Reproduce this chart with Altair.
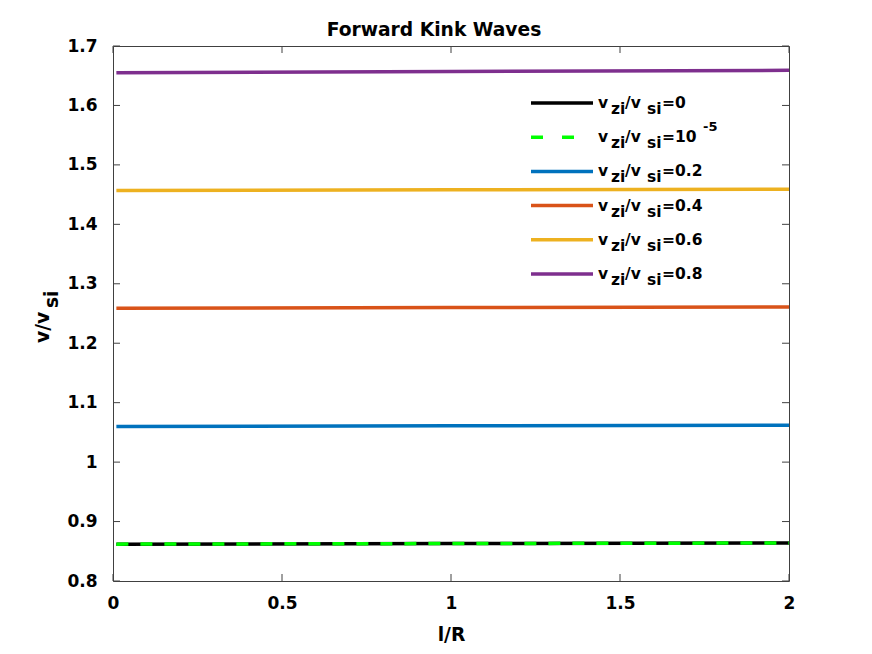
import altair as alt
import pandas as pd

# ---- data ----
x_vals = [0.01, 1.0, 2.0]
series_names = ["0", "1e-5", "0.2", "0.4", "0.6", "0.8"]
v_0 = [0.862, 0.863, 0.864]
v_1e5 = [0.862, 0.863, 0.864]
v_02 = [1.060, 1.061, 1.062]
v_04 = [1.259, 1.260, 1.261]
v_06 = [1.457, 1.458, 1.459]
v_08 = [1.655, 1.657, 1.659]
legend_values = ["=0", "=10", "=0.2", "=0.4", "=0.6", "=0.8"]
x_ticks = [0, 0.5, 1, 1.5, 2]
y_ticks = [0.8, 0.9, 1.0, 1.1, 1.2, 1.3, 1.4, 1.5, 1.6, 1.7]

palette = ["#000000", "#00ff00", "#0072BD", "#D95319", "#EDB120", "#7E2F8E"]

W, H = 676, 535
FONT = "DejaVu Sans"
AX = "#404040"

all_vals = [v_0, v_1e5, v_02, v_04, v_06, v_08]
rows = []
for name, vals in zip(series_names, all_vals):
    for xv, yv in zip(x_vals, vals):
        rows.append({"series": name, "x": xv, "y": yv})
df = pd.DataFrame(rows)

color = alt.Color("series:N", scale=alt.Scale(domain=series_names, range=palette), legend=None)

axis_common = dict(domain=False, ticks=False, tickSize=0, grid=False, labelFlush=False,
                   labelFont=FONT, labelFontSize=17, labelFontWeight="bold", labelColor="black",
                   titleFont=FONT, titleFontSize=18.7, titleFontWeight="bold", titleColor="black")
xenc = alt.X("x:Q", scale=alt.Scale(domain=[0, 2], nice=False, zero=False),
             axis=alt.Axis(values=x_ticks, format="~g", title="l/R",
                           labelPadding=14, titlePadding=14, **axis_common))
yenc = alt.Y("y:Q", scale=alt.Scale(domain=[0.8, 1.7], nice=False, zero=False),
             axis=alt.Axis(values=y_ticks, format="~g", title=None,
                           labelPadding=16, **axis_common))

solid = alt.Chart(df).transform_filter("datum.series != '1e-5'").mark_line(
    strokeWidth=3.5, clip=True).encode(x=xenc, y=yenc, color=color, detail="series:N")
dashed = alt.Chart(df).transform_filter("datum.series == '1e-5'").mark_line(
    strokeWidth=3.5, strokeDash=[12, 12]).encode(x="x:Q", y="y:Q", color=color)

# inward ticks
xt = pd.DataFrame({"t": x_ticks})
yt = pd.DataFrame({"t": y_ticks})
tick_b = alt.Chart(xt).mark_rule(color=AX, strokeWidth=1).encode(
    x="t:Q", y=alt.value(H), y2=alt.value(H - 7))
tick_t = alt.Chart(xt).mark_rule(color=AX, strokeWidth=1).encode(
    x="t:Q", y=alt.value(0), y2=alt.value(7))
tick_l = alt.Chart(yt).mark_rule(color=AX, strokeWidth=1).encode(
    y="t:Q", x=alt.value(0), x2=alt.value(7))
tick_r = alt.Chart(yt).mark_rule(color=AX, strokeWidth=1).encode(
    y="t:Q", x=alt.value(W), x2=alt.value(W - 7))

# legend
leg = pd.DataFrame({"series": series_names, "val": legend_values, "idx": list(range(6))})
lbase = alt.Chart(leg).transform_calculate(ly="57 + datum.idx * 34.2")
ly = alt.Y("ly:Q", scale=None)
leg_solid = lbase.transform_filter("datum.idx != 1").mark_rule(strokeWidth=3.5).encode(
    x=alt.value(418), x2=alt.value(480), y=ly, color=color)
leg_dash = lbase.transform_filter("datum.idx == 1").mark_rule(
    strokeWidth=3.5, strokeDash=[12, 19]).encode(
    x=alt.value(418), x2=alt.value(480), y=ly, color=color)

lbase = lbase.transform_calculate(v="'v'", zi="'zi'", sv="'/v'", si="'si'", sup="'-5'")


def piece(txt_field, xpix, dy, size=15.5, filt=None):
    b = lbase
    if filt:
        b = b.transform_filter(filt)
    return b.mark_text(align="left", baseline="alphabetic", font=FONT, fontWeight="bold",
                       fontSize=size, dy=dy, color="black").encode(
        x=alt.value(xpix), y=ly, text=txt_field)


legend_texts = [
    piece("v:N", 485, 5),
    piece("zi:N", 498, 11),
    piece("sv:N", 512, 5),
    piece("si:N", 534, 11),
    piece("val:N", 549, 5),
    piece("sup:N", 590, -6, size=13, filt="datum.idx == 1"),
]

# y axis title with subscript
yt1 = alt.Chart(pd.DataFrame({"t": ["v/v"]})).mark_text(
    align="left", baseline="alphabetic", angle=270, font=FONT, fontWeight="bold",
    fontSize=18.7, color="black").encode(x=alt.value(-64), y=alt.value(297), text="t:N")
yt2 = alt.Chart(pd.DataFrame({"t": ["si"]})).mark_text(
    align="left", baseline="alphabetic", angle=270, font=FONT, fontWeight="bold",
    fontSize=18.7, color="black").encode(x=alt.value(-55), y=alt.value(262), text="t:N")

chart = alt.layer(
    solid, dashed, tick_b, tick_t, tick_l, tick_r, leg_solid, leg_dash,
    *legend_texts, yt1, yt2
).properties(
    width=W, height=H,
    background="white",
    title=alt.TitleParams("Forward Kink Waves", font=FONT, fontSize=18.7, fontWeight="bold",
                          color="black", offset=0, dx=-17, dy=3),
    autosize=alt.AutoSizeParams(type="none"),
    padding={"left": 105, "top": 38, "right": 75, "bottom": 70},
).configure_view(
    stroke=AX, strokeWidth=1
)

chart.save("out.html", embed_options={"renderer": "svg", "actions": False})
